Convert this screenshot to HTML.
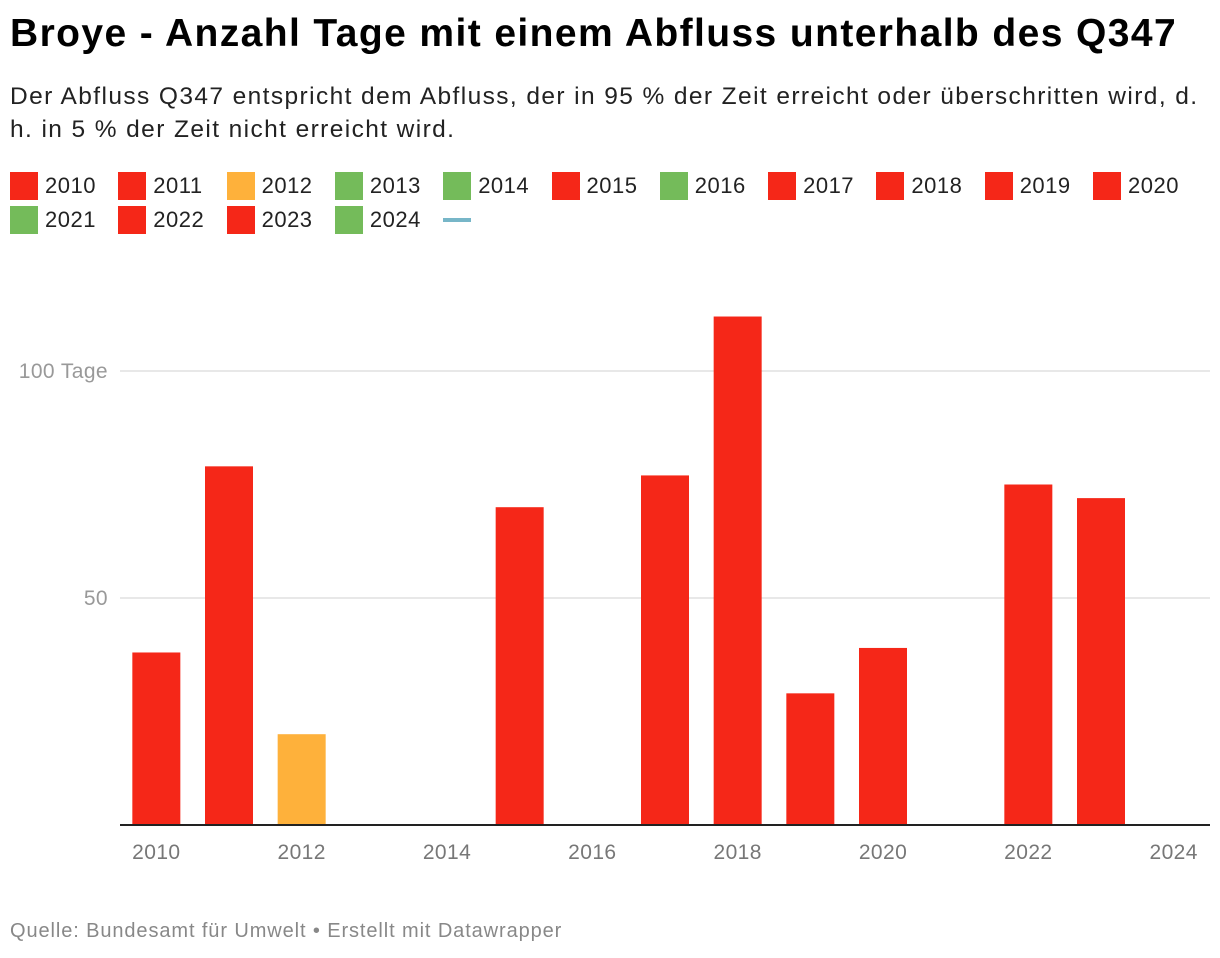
<!DOCTYPE html>
<html><head><meta charset="utf-8"><style>
body{margin:0;width:1220px;height:958px;background:#fff;font-family:"Liberation Sans",sans-serif;position:relative;overflow:hidden}
h1{position:absolute;left:10px;top:12px;margin:0;font-size:39px;font-weight:bold;color:#000;letter-spacing:1.4px;white-space:nowrap}
.sub{position:absolute;left:10px;top:80px;width:1208px;font-size:24.5px;line-height:33px;color:#222;letter-spacing:1.4px}
.leg{position:absolute;font-size:22px;color:#222;display:flex;align-items:center;letter-spacing:0.5px}
.sw{width:28px;height:28px;margin-right:7px}
.foot{position:absolute;left:10px;top:920px;font-size:20px;color:#888;letter-spacing:0.9px}
</style></head><body>
<h1>Broye - Anzahl Tage mit einem Abfluss unterhalb des Q347</h1>
<div class="sub">Der Abfluss Q347 entspricht dem Abfluss, der in 95 % der Zeit erreicht oder überschritten wird, d. h. in 5 % der Zeit nicht erreicht wird.</div>
<div id="legend"></div>
<svg id="chart" width="1220" height="958" style="position:absolute;left:0;top:0"></svg>
<div class="foot">Quelle: Bundesamt für Umwelt • Erstellt mit Datawrapper</div>
<script>
const years=[2010,2011,2012,2013,2014,2015,2016,2017,2018,2019,2020,2021,2022,2023,2024];
const values=[38,79,20,0,0,70,0,77,112,29,39,0,75,72,0];
const colorKeys=['r','r','o','g','g','r','g','r','r','r','r','g','r','r','g'];
const yTicks=[50,100];
const yTickLabels=['50','100 Tage'];
const xTicks=[2010,2012,2014,2016,2018,2020,2022,2024];
const COL={r:'#f52718',o:'#feb13b',g:'#74bb5a'};
const NS='http://www.w3.org/2000/svg';
const svg=document.getElementById('chart');
const x0=120,x1=1210,y0=825,pxPer=4.54;
const band=(x1-x0)/years.length;
const xC=i=>x0+band*(i+0.5);
const yS=v=>y0-v*pxPer;
function mk(t,a){const e=document.createElementNS(NS,t);for(const k in a)e.setAttribute(k,a[k]);svg.appendChild(e);return e;}
yTicks.forEach((v,i)=>{
 const l=mk('line',{x1:x0,x2:x1,y1:yS(v),y2:yS(v),stroke:'#e0e0e0','stroke-width':1.5});
 
 
 const t=mk('text',{x:108,y:yS(v)+7,'font-size':21,fill:'#999','text-anchor':'end','font-family':'Liberation Sans','letter-spacing':0.4});
 t.textContent=yTickLabels[i];
 
 
});
years.forEach((y,i)=>{
 if(values[i]<=0)return;
 const r=mk('rect',{x:xC(i)-24,y:yS(values[i]),width:48,height:values[i]*pxPer,fill:COL[colorKeys[i]]});
 
 
});
const ax=mk('line',{x1:x0,x2:x1,y1:y0,y2:y0,stroke:'#222','stroke-width':2});


xTicks.forEach(y=>{
 const i=years.indexOf(y);
 const t=mk('text',{x:xC(i),y:859,'font-size':21,fill:'#777','text-anchor':'middle','font-family':'Liberation Sans','letter-spacing':0.4});
 t.textContent=y;
 
 
});
const leg=document.getElementById('legend');
years.forEach((y,i)=>{
 const d=document.createElement('div');d.className='leg';
 
 
 const row=i<11?0:1,col=i<11?i:i-11;
 d.style.left=(10+col*108.3)+'px';d.style.top=(172+row*34)+'px';
 d.innerHTML='<div class="sw" style="background:'+COL[colorKeys[i]]+'"></div>'+y;
 leg.appendChild(d);
});
const ln=document.createElement('div');


ln.style.cssText='position:absolute;left:443px;top:218px;width:28px;height:4px;background:#77b6c8';
leg.appendChild(ln);
</script>
</body></html>
